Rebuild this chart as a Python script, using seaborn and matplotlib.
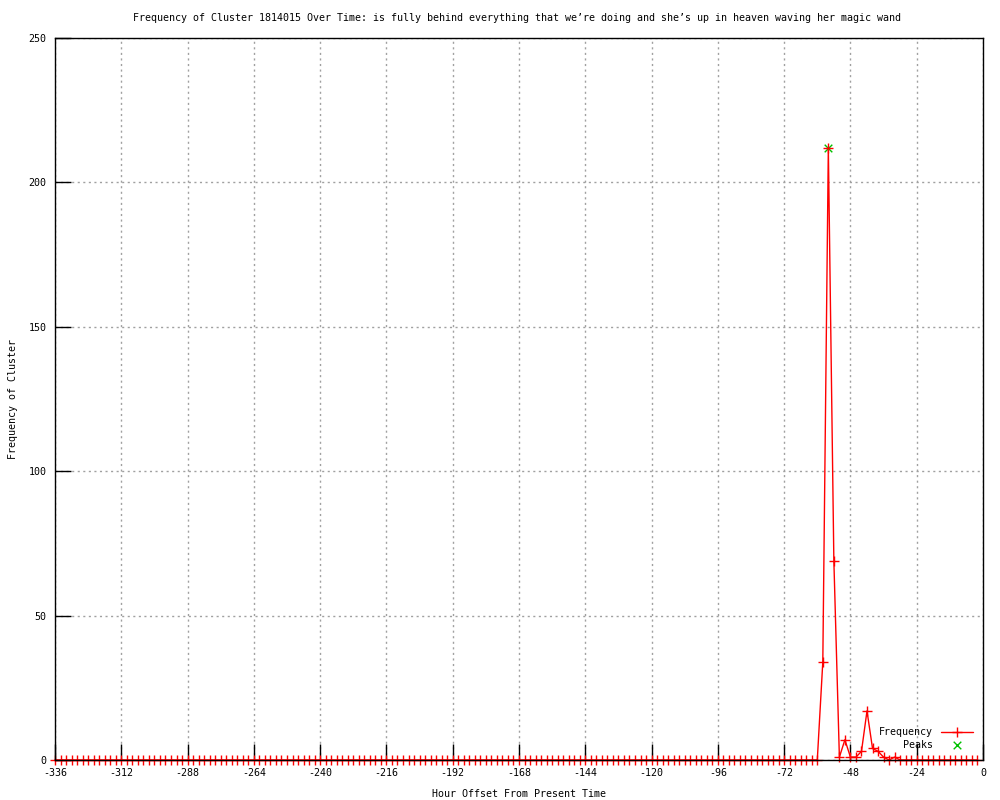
import numpy as np
import pandas as pd
import matplotlib
matplotlib.use('Agg')
import matplotlib.pyplot as plt
import seaborn as sb

# Hourly offsets (2-hour bins) and cluster counts
hours = list(range(-336, 0, 2))
spike_hours = [-58, -56, -54, -52, -50, -48, -46, -44, -42, -40, -38, -36, -34, -32]
spike_counts = [34, 212, 69, 1, 7, 1, 1, 3, 17, 4, 3, 1, 0, 1]
peak_hours = [-56]
peak_counts = [212]

x_ticks = list(range(-336, 1, 24))
y_ticks = [0, 50, 100, 150, 200, 250]

counts = dict(zip(spike_hours, spike_counts))
freq = pd.DataFrame({'hour': hours, 'count': [counts.get(h, 0) for h in hours]})
peaks = pd.DataFrame({'hour': peak_hours, 'count': peak_counts})

sb.set_style('white')
plt.rcParams['font.family'] = ['DejaVu Sans Mono']
plt.rcParams['axes.unicode_minus'] = False
plt.rcParams['text.color'] = 'black'
plt.rcParams['axes.labelcolor'] = 'black'
plt.rcParams['xtick.color'] = 'black'
plt.rcParams['ytick.color'] = 'black'

fig = plt.figure(figsize=(10, 8), dpi=100)
ax = fig.add_axes([0.055, 0.05, 0.928, 0.9025])

sb.lineplot(data=freq, x='hour', y='count', ax=ax, color='red', linewidth=1,
            marker='+', markersize=7, markeredgewidth=1, markeredgecolor='red',
            label='Frequency', clip_on=False, zorder=3)
sb.scatterplot(data=peaks, x='hour', y='count', ax=ax, color='#00c000', marker='x',
               s=30, linewidth=1, label='Peaks', zorder=2)

ax.set_xlim(-336, 0)
ax.set_ylim(0, 250)
ax.set_xticks(x_ticks)
ax.set_xticklabels([str(t) for t in x_ticks])
ax.set_yticks(y_ticks)
ax.set_yticklabels([str(t) for t in y_ticks])
ax.tick_params(direction='in', length=11.5, width=1, labelsize=7.2, pad=6,
               bottom=True, left=True, top=False, right=False)
ax.grid(True, color='#a0a0a0', linestyle=(0, (1.5, 2.5)), linewidth=1)
for sp in ax.spines.values():
    sp.set_color('black')
    sp.set_linewidth(1)
    sp.set_zorder(4)

ax.set_xlabel('Hour Offset From Present Time', fontsize=7.2, labelpad=8)
ax.set_ylabel('Frequency of Cluster', fontsize=7.2, labelpad=8)
fig.text(0.517, 1 - 18 / 800,
         'Frequency of Cluster 1814015 Over Time: is fully behind everything that we\u2019re doing and she\u2019s up in heaven waving her magic wand',
         ha='center', va='center', fontsize=7.2)

leg = ax.legend(loc='lower right', frameon=False, markerfirst=False, fontsize=7.2,
                handlelength=3.2, borderaxespad=0.6, labelspacing=0.3)
for t in leg.get_texts():
    t.set_ha('right')

fig.savefig('out.png', dpi=100)
